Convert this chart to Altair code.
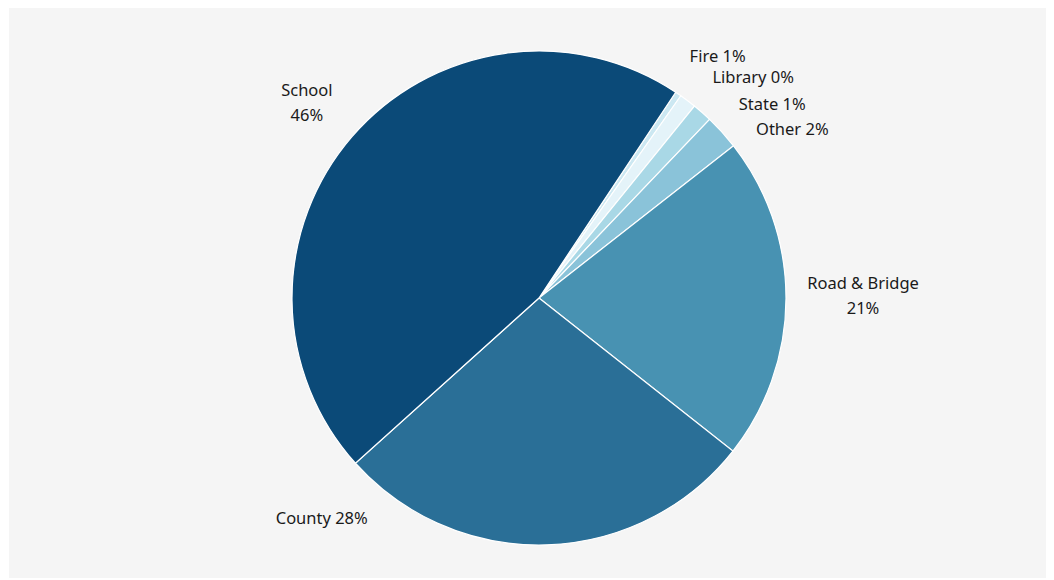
import math
import altair as alt
import pandas as pd

categories = ["Library", "Fire", "State", "Other", "Road & Bridge", "County", "School"]
values = [0.4, 1.1, 1.3, 2.3, 21.2, 27.7, 46.0]
colors = ["#cce8f2", "#e4f3f9", "#a9d8e6", "#8ac3d9", "#4892b2", "#2a6f97", "#0b4a78"]
two_line = {"Road & Bridge", "School"}

total = sum(values)
df = pd.DataFrame({
    "category": categories,
    "value": values,
    "ord": list(range(len(categories))),
})
df["label"] = [
    f"{c}\n{round(v / total * 100):.0f}%" if c in two_line else f"{c} {round(v / total * 100):.0f}%"
    for c, v in zip(categories, values)
]

start = math.radians(33.6)
theta_scale = alt.Scale(domain=[0, total], range=[start, start + 2 * math.pi])

bg = alt.Chart(pd.DataFrame({"a": [0]})).mark_rect(color="#f5f5f5").encode(
    x=alt.value(-15), x2=alt.value(1022), y=alt.value(-8), y2=alt.value(562)
)

base = alt.Chart(df)
arcs = base.mark_arc(outerRadius=247, stroke="white", strokeWidth=1.2).encode(
    theta=alt.Theta("value:Q", stack=True, scale=theta_scale),
    color=alt.Color("category:N", scale=alt.Scale(domain=categories, range=colors), legend=None),
    order=alt.Order("ord:Q"),
)

nudges = {
    "Fire": (-2, -1),
    "Library": (45, 28),
    "State": (35, 32),
    "Other": (31, 33),
    "Road & Bridge": (24, -14.5),
    "County": (-227, -79),
    "School": (-5, -11),
}

layers = [bg, arcs]
for cat in categories:
    dx, dy = nudges[cat]
    t = (
        base.transform_window(cum="sum(value)", sort=[alt.SortField("ord")])
        .transform_calculate(mid="datum.cum - datum.value / 2")
        .transform_filter(alt.datum.category == cat)
        .mark_text(radius=300, dx=dx, dy=dy, font="Noto Sans", fontSize=16.5,
                   color="#1a1a1a", lineBreak="\n", lineHeight=25,
                   align="center", baseline="middle")
        .encode(theta=alt.Theta("mid:Q", scale=theta_scale), text="label:N")
    )
    layers.append(t)

chart = alt.layer(*layers).properties(
    width=1030, height=564,
    autosize=alt.AutoSizeParams(type="none"),
    padding={"left": 24, "top": 16, "right": 0, "bottom": 0},
    background="white",
).configure_view(stroke=None)

chart.save("out.html", embed_options={"renderer": "svg", "actions": False})
